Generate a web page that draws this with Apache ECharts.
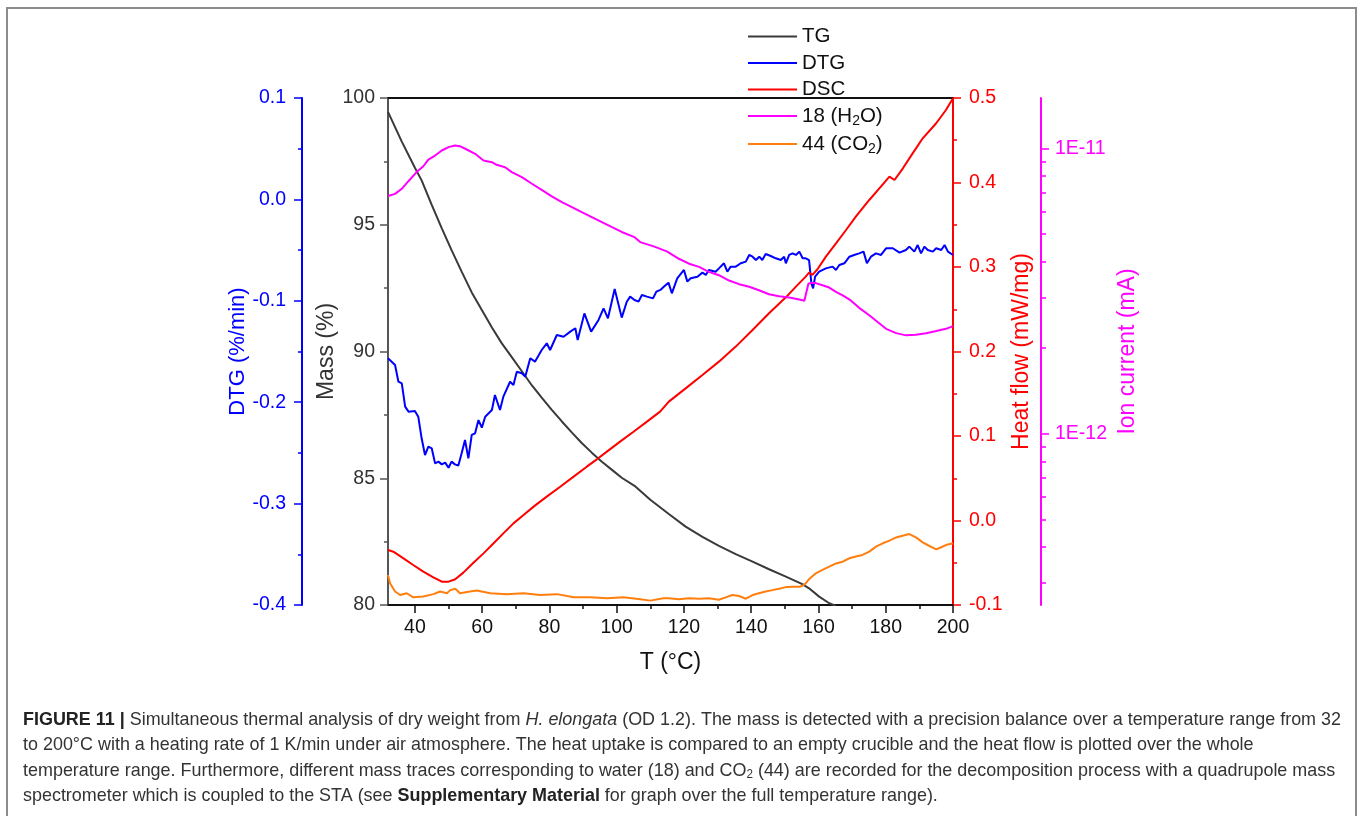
<!DOCTYPE html>
<html><head><meta charset="utf-8">
<script src="https://cdn.jsdelivr.net/npm/echarts@6/dist/echarts.min.js"></script>
<style>html,body{margin:0;padding:0;background:#fff}#c{width:1357px;height:816px}</style>
</head><body><div id="c"></div><script>
// ---- data: [temperature (°C), value] ----
const tgData = [[32,99.45],[36.1,98.28],[40.0,97.25],[42.0,96.75],[45.0,95.78],[48.0,94.86],[50.9,94.0],[53.9,93.15],[56.9,92.33],[59.9,91.64],[62.9,90.95],[65.8,90.33],[68.8,89.78],[71.8,89.22],[74.8,88.66],[77.7,88.18],[80.7,87.7],[83.7,87.24],[86.7,86.8],[89.6,86.39],[92.6,86.01],[95.6,85.65],[98.6,85.33],[101.5,85.02],[105.3,84.7],[110.0,84.15],[115.5,83.59],[120.5,83.09],[125.5,82.69],[130.4,82.33],[135.4,82.01],[140.4,81.71],[145.3,81.41],[150.3,81.12],[155.2,80.82],[157.2,80.66],[160.2,80.33],[163.2,80.07],[165.2,79.96]];

const dtgData = [[32,-0.1567],[34.1,-0.1633],[35.1,-0.1798],[36.1,-0.1814],[37.1,-0.2044],[38.1,-0.2093],[40.0,-0.2087],[41.0,-0.2143],[42.0,-0.2356],[43.0,-0.2521],[44.0,-0.2438],[45.0,-0.2455],[46.0,-0.2603],[47.0,-0.2586],[48.0,-0.2613],[49.0,-0.2596],[50.0,-0.2646],[50.9,-0.2586],[51.9,-0.2613],[52.9,-0.2626],[53.9,-0.2504],[54.9,-0.2373],[55.9,-0.2554],[56.9,-0.2323],[57.9,-0.2307],[58.9,-0.2176],[59.9,-0.2251],[60.9,-0.2143],[62.9,-0.2077],[63.8,-0.1929],[65.3,-0.2077],[66.3,-0.1945],[68.3,-0.1798],[69.3,-0.1830],[70.3,-0.1699],[71.8,-0.1715],[72.8,-0.1748],[74.3,-0.1567],[75.7,-0.1600],[77.7,-0.1485],[79.2,-0.1419],[80.2,-0.1485],[82.2,-0.1337],[84.2,-0.1354],[86.2,-0.1304],[87.7,-0.1271],[88.4,-0.1387],[90.4,-0.1124],[92.4,-0.1304],[94.6,-0.1189],[96.1,-0.1074],[97.4,-0.1173],[99.4,-0.0884],[101.5,-0.1166],[103.0,-0.1009],[104.0,-0.0959],[105.3,-0.0992],[106.5,-0.1008],[107.5,-0.0943],[109.0,-0.0959],[110.8,-0.0976],[111.8,-0.0910],[113.0,-0.0893],[114.0,-0.0861],[115.4,-0.0821],[116.4,-0.0926],[118.0,-0.0778],[120.0,-0.0696],[121.0,-0.0811],[122.0,-0.0778],[124.0,-0.0762],[125.5,-0.0722],[126.5,-0.0745],[127.4,-0.0696],[129.4,-0.0713],[130.4,-0.0680],[131.9,-0.0630],[132.9,-0.0713],[133.9,-0.0663],[135.4,-0.0663],[136.9,-0.0630],[138.4,-0.0614],[139.4,-0.0548],[140.4,-0.0565],[141.4,-0.0598],[142.4,-0.0565],[143.3,-0.0598],[144.3,-0.0538],[145.8,-0.0558],[147.3,-0.0581],[148.8,-0.0598],[149.8,-0.0565],[150.3,-0.0630],[151.3,-0.0548],[152.3,-0.0532],[153.3,-0.0548],[154.3,-0.0515],[155.3,-0.0581],[156.2,-0.0581],[157.2,-0.0598],[157.9,-0.0828],[158.4,-0.0877],[159.0,-0.0762],[160.2,-0.0713],[162.2,-0.0680],[164.2,-0.0663],[165.2,-0.0696],[166.2,-0.0647],[167.7,-0.0630],[169.2,-0.0565],[170.6,-0.0548],[172.1,-0.0532],[173.4,-0.0515],[174.4,-0.0630],[175.6,-0.0565],[177.1,-0.0532],[178.6,-0.0548],[180.1,-0.0482],[182.1,-0.0482],[184.1,-0.0525],[186.0,-0.0499],[187.0,-0.0466],[188.5,-0.0515],[189.5,-0.0450],[190.5,-0.0532],[191.5,-0.0466],[192.5,-0.0499],[194.0,-0.0515],[195.0,-0.0482],[196.5,-0.0499],[197.5,-0.0450],[198.5,-0.0515],[200,-0.0548]];

const dscData = [[32,-0.0349],[33.6,-0.0369],[36.6,-0.0448],[39.5,-0.0527],[42.5,-0.0605],[45.5,-0.0672],[48.0,-0.0724],[50.0,-0.0724],[52.0,-0.0696],[54.4,-0.0617],[57.4,-0.0499],[60.4,-0.0389],[63.4,-0.0270],[66.3,-0.0152],[69.3,-0.0034],[72.3,0.0065],[75.3,0.0164],[79.2,0.0282],[83.2,0.0400],[87.2,0.0519],[91.1,0.0637],[94.1,0.0724],[97.1,0.0815],[101.0,0.0933],[105.0,0.1051],[109.0,0.1170],[112.9,0.1288],[115.5,0.1407],[120.5,0.1564],[125.5,0.1722],[130.4,0.1880],[135.4,0.2058],[140.4,0.2255],[145.3,0.2452],[150.3,0.2641],[153.3,0.2768],[156.2,0.2886],[157.2,0.2933],[158.2,0.2906],[159.7,0.2973],[162.2,0.3123],[165.2,0.3280],[168.2,0.3438],[171.1,0.3596],[175.1,0.3793],[178.1,0.3931],[181.1,0.4069],[182.6,0.4030],[185.1,0.4168],[188.0,0.4345],[191.0,0.4523],[195.0,0.4701],[197.9,0.4858],[200,0.4996]];

// ion currents, in units of 1E-12
const h2oData = [[32,6.80],[34.1,6.92],[36.1,7.21],[38.0,7.65],[40.5,8.25],[42.5,8.65],[44.0,9.13],[46.0,9.43],[48.0,9.82],[50.0,10.09],[51.9,10.22],[53.4,10.17],[55.4,9.90],[57.9,9.56],[60.4,9.06],[62.9,8.94],[64.3,8.75],[66.8,8.58],[68.8,8.25],[71.8,7.92],[74.8,7.51],[77.7,7.15],[80.7,6.78],[83.7,6.48],[86.7,6.22],[89.6,5.97],[92.6,5.74],[95.6,5.51],[98.6,5.29],[101.5,5.09],[105.3,4.88],[107.0,4.69],[111.0,4.53],[114.9,4.35],[118.5,4.10],[121.5,3.94],[124.5,3.84],[127.4,3.69],[130.4,3.59],[133.4,3.44],[136.4,3.34],[139.4,3.27],[142.3,3.18],[145.3,3.08],[148.3,3.03],[151.3,3.00],[154.3,2.95],[155.8,2.92],[156.2,2.93],[157.0,3.35],[157.7,3.37],[159.2,3.37],[161.2,3.31],[163.2,3.25],[165.2,3.14],[167.2,3.05],[169.6,2.93],[172.1,2.76],[175.1,2.60],[177.6,2.46],[180.1,2.33],[183.1,2.25],[186.0,2.21],[189.0,2.22],[192.0,2.25],[195.0,2.29],[197.9,2.33],[200,2.38]];

const co2Data = [[32,0.320],[32.6,0.299],[34.1,0.280],[35.6,0.272],[37.6,0.276],[39.5,0.267],[42.5,0.269],[45.5,0.274],[47.5,0.280],[49.5,0.276],[50.5,0.283],[52.0,0.286],[53.4,0.276],[56.4,0.280],[58.4,0.282],[62.4,0.276],[67.3,0.274],[72.3,0.276],[77.2,0.272],[82.2,0.274],[87.2,0.267],[92.1,0.267],[97.1,0.265],[102.0,0.267],[107.0,0.263],[110.0,0.260],[113.9,0.265],[115.5,0.265],[118.5,0.263],[121.5,0.265],[124.5,0.264],[127.4,0.265],[130.4,0.262],[132.4,0.267],[134.4,0.272],[136.4,0.270],[138.4,0.264],[140.4,0.272],[142.3,0.276],[144.3,0.280],[146.3,0.283],[148.3,0.286],[150.3,0.290],[152.3,0.291],[154.3,0.291],[155.3,0.293],[156.2,0.299],[157.2,0.309],[159.2,0.324],[161.2,0.333],[163.2,0.342],[165.2,0.351],[167.2,0.356],[169.2,0.366],[171.1,0.371],[173.1,0.376],[175.1,0.386],[177.1,0.402],[179.1,0.413],[181.1,0.422],[183.1,0.433],[185.0,0.439],[187.0,0.445],[189.0,0.433],[191.0,0.416],[193.0,0.404],[195.0,0.393],[196.5,0.400],[197.9,0.407],[200,0.413]];

const ION_UNIT = 1e-12;
const seriesNames = ['TG', 'DTG', 'DSC', '18 (H2O)', '44 (CO2)'];
const xLabelValues = [40, 60, 80, 100, 120, 140, 160, 180, 200];
const xMinorValues = [50, 70, 90, 110, 130, 150, 170, 190];
const ionMajorTicks = [1e-12, 1e-11];
const ionMinorTicks = [3e-13, 4e-13, 5e-13, 6e-13, 7e-13, 8e-13, 9e-13, 2e-12, 3e-12, 4e-12, 5e-12, 6e-12, 7e-12, 8e-12, 9e-12];
const captionLines = [
  [{b:1,t:'FIGURE 11 |'},{t:' Simultaneous thermal analysis of dry weight from '},{i:1,t:'H. elongata'},{t:' (OD 1.2). The mass is detected with a precision balance over a temperature range from 32'}],
  [{t:'to 200\u00B0C with a heating rate of 1 K/min under air atmosphere. The heat uptake is compared to an empty crucible and the heat flow is plotted over the whole'}],
  [{t:'temperature range. Furthermore, different mass traces corresponding to water (18) and CO'},{s:1,t:'2'},{t:' (44) are recorded for the decomposition process with a quadrupole mass'}],
  [{t:'spectrometer which is coupled to the STA (see '},{b:1,t:'Supplementary Material'},{t:' for graph over the full temperature range).'}]
];

// ---- styling ----
const FONT = '"Liberation Sans", Arial, sans-serif';
const C = {tg:'#3a3a3a', dtg:'#0000ff', dsc:'#ff0000', h2o:'#ff00ff', co2:'#ff7f0e', mass:'#555555'};
const ION_MIN = 2.51e-13, ION_MAX = 1.5e-11;
const TICK_FS = 19.5;

const chart = echarts.init(document.getElementById('c'), null, {renderer:'canvas'});

function yAx(o) {
  return Object.assign({
    type:'value', splitLine:{show:false}, nameLocation:'middle', nameRotate:90, nameMoveOverlap:false,
    axisLine:{show:true, onZero:false, lineStyle:{width:2}},
    axisTick:{show:true, length:8, lineStyle:{width:1.5}},
    minorTick:{show:true, splitNumber:2, length:4, lineStyle:{width:1.5}},
    axisLabel:{fontSize:TICK_FS, fontFamily:FONT}
  }, o);
}

// caption
const CAP_SIZE = 18.5, CAP_X = 23, CAP_Y0 = 720, CAP_DY = 25.3, CAP_LINE1_W = 1318;
const mctx = document.createElement('canvas').getContext('2d');
function runFont(r) { return (r.i ? 'italic ' : '') + (r.b ? 'bold ' : '') + (r.s ? 12 : CAP_SIZE) + 'px ' + FONT; }
function runsWidth(runs) { let w = 0; runs.forEach(r => { mctx.font = runFont(r); w += mctx.measureText(r.t).width; }); return w; }
const capScale = CAP_LINE1_W / runsWidth(captionLines[0]);
const capRich = {
  n:{font: CAP_SIZE + 'px ' + FONT, fill:'#333'},
  b:{font: 'bold ' + CAP_SIZE + 'px ' + FONT, fill:'#222'},
  i:{font: 'italic ' + CAP_SIZE + 'px ' + FONT, fill:'#333'},
  s:{font: '12px ' + FONT, fill:'#333', padding:[9,0,0,0]}
};
const captionGraphics = captionLines.map((runs, k) => ({
  type:'text', x: CAP_X, y: CAP_Y0 + k * CAP_DY, scaleX: capScale, silent:true,
  style:{ text: runs.map(r => '{' + (r.b ? 'b' : r.i ? 'i' : r.s ? 's' : 'n') + '|' + r.t + '}').join(''),
          rich: capRich, font: CAP_SIZE + 'px ' + FONT, fill:'#333', align:'left', verticalAlign:'middle' }
}));

const legendLabels = {'TG':'TG', 'DTG':'DTG', 'DSC':'DSC', '18 (H2O)':'18 (H{s|2}O)', '44 (CO2)':'44 (CO{s|2})'};

function line(name, yIdx, data, color, w) {
  return {name, type:'line', xAxisIndex:0, yAxisIndex:yIdx, data, symbol:'none', showSymbol:false,
          lineStyle:{color, width:w}, itemStyle:{color}, clip:true, animation:false};
}

const option = {
  animation:false,
  backgroundColor:'#fff',
  textStyle:{fontFamily:FONT},
  grid:{left:388, right:404, top:98, bottom:211, containLabel:false, outerBoundsMode:'none'},
  legend:{
    orient:'vertical', left:743, top:21, itemWidth:49, itemHeight:14, itemGap:5.5,
    icon:'path://M0,6 L49,6 L49,8 L0,8 Z',
    textStyle:{fontSize:20.5, fontFamily:FONT, color:'#111', padding:[0,0,0,0],
      rich:{s:{fontSize:14, fontFamily:FONT, color:'#111', padding:[10,0,0,0]}}},
    formatter: n => legendLabels[n],
    data: seriesNames, selectedMode:false
  },
  xAxis:[
    {type:'value', min:32, max:200, position:'bottom', splitLine:{show:false},
     axisLine:{show:true, onZero:false, lineStyle:{color:'#111', width:2}},
     axisTick:{show:true, customValues:xLabelValues, length:8, lineStyle:{color:'#111', width:1.5}},
     axisLabel:{customValues:xLabelValues, fontSize:TICK_FS, fontFamily:FONT, color:'#111', margin:13},
     name:'T (\u00B0C)', nameLocation:'middle', nameGap:46, nameMoveOverlap:false,
     nameTextStyle:{fontSize:23, fontFamily:FONT, color:'#111'}},
    {type:'value', min:32, max:200, position:'bottom', splitLine:{show:false},
     axisLine:{show:false, onZero:false},
     axisTick:{show:true, customValues:xMinorValues, length:4, lineStyle:{color:'#111', width:1.5}},
     axisLabel:{show:false}},
    {type:'value', min:32, max:200, position:'top', splitLine:{show:false},
     axisLine:{show:true, onZero:false, lineStyle:{color:'#111', width:2}},
     axisTick:{show:false}, axisLabel:{show:false}}
  ],
  yAxis:[
    yAx({min:80, max:100, interval:5, position:'left', offset:0,
      axisLine:{show:true, onZero:false, lineStyle:{color:C.mass, width:2}},
      axisTick:{show:true, length:8, lineStyle:{color:C.mass, width:1.5}},
      minorTick:{show:true, splitNumber:2, length:4, lineStyle:{color:C.mass, width:1.5}},
      axisLabel:{fontSize:TICK_FS, fontFamily:FONT, color:'#333', margin:13},
      name:'Mass (%)', nameGap:50, nameTextStyle:{fontSize:23, fontFamily:FONT, color:'#333'}}),
    yAx({min:-0.4, max:0.1, interval:0.1, position:'left', offset:86,
      axisLine:{show:true, onZero:false, lineStyle:{color:C.dtg, width:2}},
      axisTick:{show:true, length:8, lineStyle:{color:C.dtg, width:1.5}},
      minorTick:{show:true, splitNumber:2, length:4, lineStyle:{color:C.dtg, width:1.5}},
      axisLabel:{fontSize:TICK_FS, fontFamily:FONT, color:C.dtg, margin:16, formatter:v => v.toFixed(1)},
      name:'DTG (%/min)', nameGap:53, nameTextStyle:{fontSize:22, fontFamily:FONT, color:C.dtg}}),
    yAx({min:-0.1, max:0.5, interval:0.1, position:'right', offset:0,
      axisLine:{show:true, onZero:false, lineStyle:{color:C.dsc, width:2}},
      axisTick:{show:true, length:8, lineStyle:{color:C.dsc, width:1.5}},
      minorTick:{show:true, splitNumber:2, length:4, lineStyle:{color:C.dsc, width:1.5}},
      axisLabel:{fontSize:TICK_FS, fontFamily:FONT, color:C.dsc, margin:16, formatter:v => v.toFixed(1)},
      name:'Heat flow (mW/mg)', nameGap:57, nameTextStyle:{fontSize:23, fontFamily:FONT, color:C.dsc}}),
    {type:'log', logBase:10, min:ION_MIN, max:ION_MAX, position:'right', offset:88, splitLine:{show:false},
      axisLine:{show:true, onZero:false, lineStyle:{color:C.h2o, width:2}},
      axisTick:{show:true, customValues:ionMajorTicks, length:8, lineStyle:{color:C.h2o, width:1.5}},
      minorTick:{show:false},
      axisLabel:{customValues:ionMajorTicks, fontSize:TICK_FS, fontFamily:FONT, color:C.h2o, margin:14,
                 formatter:v => '1E' + Math.round(Math.log10(v))},
      name:'Ion current (mA)', nameLocation:'middle', nameRotate:90, nameGap:75, nameMoveOverlap:false,
      nameTextStyle:{fontSize:23, fontFamily:FONT, color:C.h2o}},
    {type:'log', logBase:10, min:ION_MIN, max:ION_MAX, position:'right', offset:88, splitLine:{show:false},
      axisLine:{show:false, onZero:false},
      axisTick:{show:true, customValues:ionMinorTicks, length:5, lineStyle:{color:C.h2o, width:1.5}},
      minorTick:{show:false}, axisLabel:{show:false}}
  ],
  graphic:[
    {type:'rect', silent:true, shape:{x:7, y:8, width:1349, height:840}, style:{fill:'none', stroke:'#8c8c8c', lineWidth:2}}
  ].concat(captionGraphics),
  series:[
    line('TG', 0, tgData, C.tg, 2),
    line('DTG', 1, dtgData, C.dtg, 2),
    line('DSC', 2, dscData, C.dsc, 2),
    line('18 (H2O)', 3, h2oData.map(p => [p[0], p[1] * ION_UNIT]), C.h2o, 2),
    line('44 (CO2)', 3, co2Data.map(p => [p[0], p[1] * ION_UNIT]), C.co2, 2)
  ]
};
chart.setOption(option);
</script></body></html>
